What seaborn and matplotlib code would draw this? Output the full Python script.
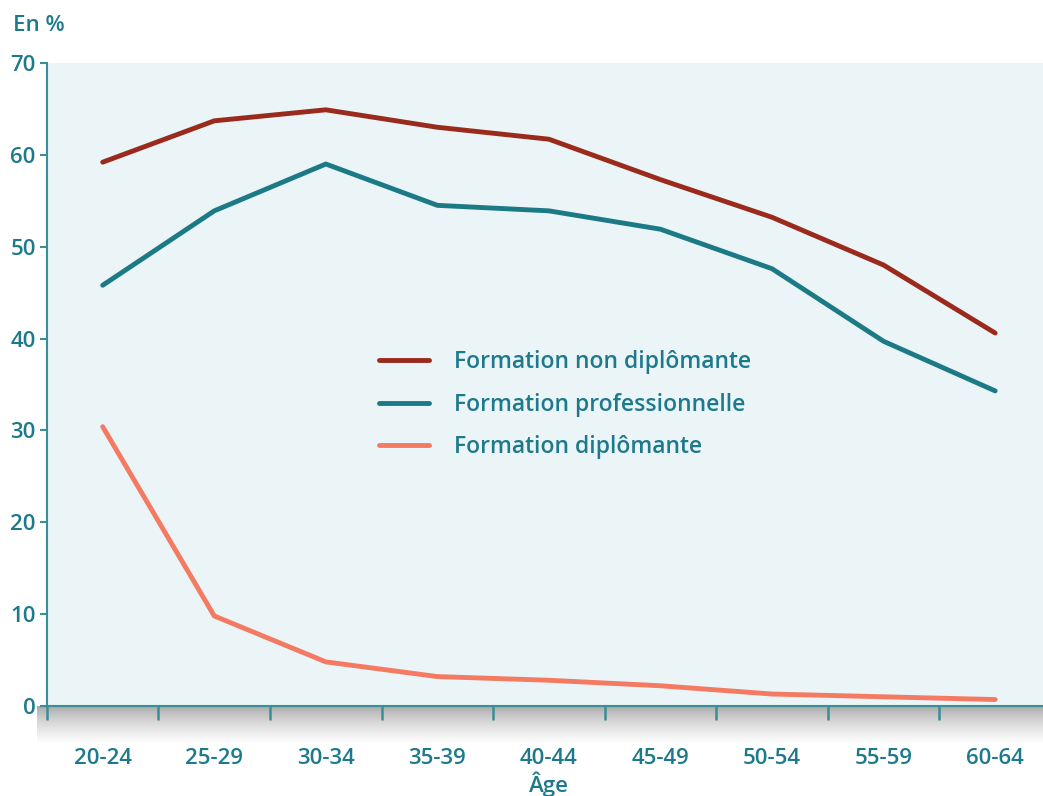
import matplotlib.pyplot as plt
import seaborn as sns
import pandas as pd
import numpy as np

ages = ['20-24', '25-29', '30-34', '35-39', '40-44', '45-49', '50-54', '55-59', '60-64']
non_diplomante = [59.2, 63.7, 64.9, 63.0, 61.7, 57.3, 53.2, 48.0, 40.6]
professionnelle = [45.8, 53.9, 59.0, 54.5, 53.9, 51.9, 47.6, 39.7, 34.3]
diplomante = [30.4, 9.8, 4.8, 3.2, 2.8, 2.2, 1.3, 1.0, 0.7]

series_names = ['Formation non diplômante', 'Formation professionnelle', 'Formation diplômante']
colors = ['#9a2a1c', '#1b7a86', '#f47a62']
text_color = '#1d7a8c'
axis_color = '#3a8e98'

frames = []
for name, vals in zip(series_names, [non_diplomante, professionnelle, diplomante]):
    frames.append(pd.DataFrame({'Âge': ages, 'Valeur': vals, 'Série': name}))
data = pd.concat(frames, ignore_index=True)
data['pos'] = data['Âge'].map({a: i for i, a in enumerate(ages)})

sns.set_style('white')
plt.rcParams['font.family'] = ['Open Sans', 'DejaVu Sans']

fig = plt.figure(figsize=(10.43, 7.96), dpi=100)
ax = fig.add_axes([0.045, 0.1131, 0.9626, 0.8078])
ax.set_facecolor('#ebf5f7')

# soft shadow below the x axis
shadow = fig.add_axes([0.035, 0.065, 0.975, 0.048], zorder=-1)
grad = (np.linspace(0.0, 1.0, 60) ** 0.6 * 0.4 + 0.6).reshape(-1, 1)
shadow.imshow(grad, aspect='auto', cmap='gray', vmin=0, vmax=1, extent=[0, 1, 0, 1], origin='upper')
shadow.axis('off')

sns.lineplot(data=data, x='pos', y='Valeur', hue='Série', palette=colors,
             hue_order=series_names, linewidth=3.5, ax=ax, legend=False)

ax.set_xlim(-0.5, len(ages) - 0.5)
ax.set_ylim(0, 70)
ax.set_yticks(range(0, 71, 10))
ax.set_xticks(range(len(ages)))
ax.set_xticklabels(ages)
ax.set_xticks(np.arange(-0.5, len(ages), 1), minor=True)

for s in ['top', 'right']:
    ax.spines[s].set_visible(False)
for s in ['left', 'bottom']:
    ax.spines[s].set_color(axis_color)
    ax.spines[s].set_linewidth(1.5)

ax.tick_params(axis='y', which='major', left=True, length=5, width=1.5, color=axis_color,
               labelsize=16, labelcolor=text_color, pad=3)
ax.tick_params(axis='x', which='major', bottom=True, length=0, labelsize=16,
               labelcolor=text_color, pad=30)
ax.tick_params(axis='x', which='minor', bottom=True, length=10, width=1.8,
               color=axis_color, direction='out')
for lbl in ax.get_xticklabels() + ax.get_yticklabels():
    lbl.set_fontweight('semibold')

ax.set_xlabel('Âge', fontsize=16, color=text_color, fontweight='semibold', labelpad=2)
ax.set_ylabel('')
fig.text(0.012, 0.968, 'En %', fontsize=16, color=text_color, fontweight='semibold', va='center')

handles = [plt.Line2D([0], [0], color=c, lw=3.5) for c in colors]
leg = ax.legend(handles, series_names, loc='upper left', bbox_to_anchor=(0.31, 0.585),
                frameon=False, fontsize=16.5, handlelength=2.2, handletextpad=1.1,
                labelspacing=0.8)
for t in leg.get_texts():
    t.set_color(text_color)
    t.set_fontweight('semibold')

fig.savefig('out.png', dpi=100)
